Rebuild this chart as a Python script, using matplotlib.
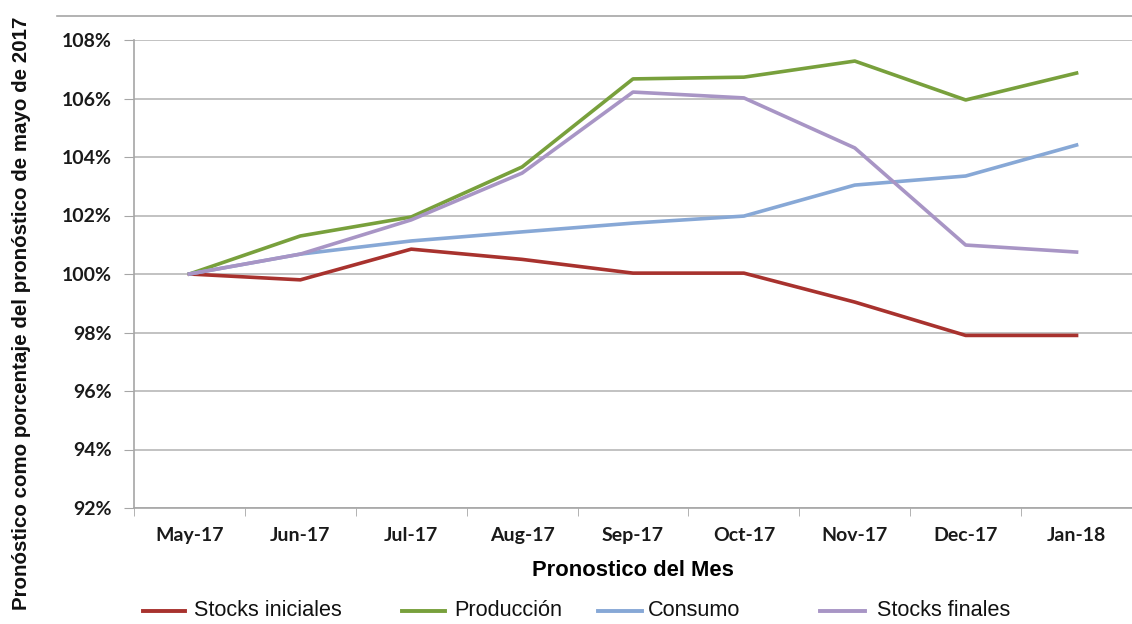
import numpy as np
import matplotlib
matplotlib.use("Agg")
import matplotlib.pyplot as plt
from matplotlib.lines import Line2D
from matplotlib.ticker import FuncFormatter

months = ["May-17", "Jun-17", "Jul-17", "Aug-17", "Sep-17",
          "Oct-17", "Nov-17", "Dec-17", "Jan-18"]
stocks_iniciales = [100.0, 99.8, 100.85, 100.5, 100.03, 100.03, 99.04, 97.9, 97.9]
produccion = [100.0, 101.3, 101.95, 103.66, 106.67, 106.73, 107.28, 105.95, 106.87]
consumo = [100.0, 100.68, 101.13, 101.44, 101.74, 101.98, 103.04, 103.35, 104.41]
stocks_finales = [100.0, 100.68, 101.85, 103.45, 106.22, 106.02, 104.31, 100.99, 100.75]

names = ["Stocks iniciales", "Producción", "Consumo", "Stocks finales"]
series = [stocks_iniciales, produccion, consumo, stocks_finales]
colors = ["#a8322e", "#78a03c", "#87a8d6", "#a895c5"]

fig = plt.figure(figsize=(11.32, 6.24), dpi=100)
ax = fig.add_axes([134 / 1132, 1 - 508 / 624, 1 - 134 / 1132, 468 / 624])

x = np.arange(len(months))
for vals, c in zip(series, colors):
    ax.plot(x, vals, color=c, lw=2.6, solid_joinstyle="round")

ax.set_xlim(-0.5, len(months) - 0.5)
ax.set_ylim(92, 108)
ax.set_yticks(np.arange(92, 109, 2))
ax.yaxis.set_major_formatter(FuncFormatter(lambda v, p: "%d%%" % v))
ax.set_xticks(x)
ax.set_xticklabels(months)
ax.set_xticks(np.arange(-0.5, len(months), 1), minor=True)
ax.tick_params(axis="x", which="major", length=0, pad=14)
ax.tick_params(axis="x", which="minor", length=6, color="#a6a6a6", direction="out")
ax.tick_params(axis="y", length=7, color="#a6a6a6", pad=9)
for lab in ax.get_xticklabels() + ax.get_yticklabels():
    lab.set_fontfamily("Lato")
    lab.set_fontweight("bold")
    lab.set_fontsize(14)
    lab.set_color("#1a1a1a")

ax.grid(axis="y", color="#b8b8b8", lw=1.2)
ax.set_axisbelow(True)
for s in ["top", "right"]:
    ax.spines[s].set_visible(False)
for s in ["left", "bottom"]:
    ax.spines[s].set_color("#a6a6a6")
    ax.spines[s].set_linewidth(1.2)

ax.set_xlabel("Pronostico del Mes", fontfamily="Liberation Sans",
              fontweight="bold", fontsize=15.8, labelpad=11)
fig.text(22 / 1132, 1 - 313 / 624,
         "Pronóstico como porcentaje del pronóstico de mayo de 2017",
         rotation=90, ha="center", va="center", fontfamily="Liberation Sans",
         fontweight="bold", fontsize=14.8, color="#111111")

# chart border line at top
fig.add_artist(Line2D([57 / 1132, 1], [1 - 16 / 624] * 2, color="#a6a6a6", lw=1.2))

# legend drawn manually (Excel-like spacing)
line_x = [(143, 185), (402, 445), (598, 642), (820, 865)]
text_x = [194, 454, 648, 877]
ly = 1 - 611 / 624
for (x0, x1), tx, name, c in zip(line_x, text_x, names, colors):
    fig.add_artist(Line2D([x0 / 1132, x1 / 1132], [ly, ly], color=c, lw=2.8))
    fig.text(tx / 1132, ly, name, ha="left", va="center",
             fontfamily="Liberation Sans", fontsize=15.6, color="#111111")

fig.savefig("out.png", dpi=100)
